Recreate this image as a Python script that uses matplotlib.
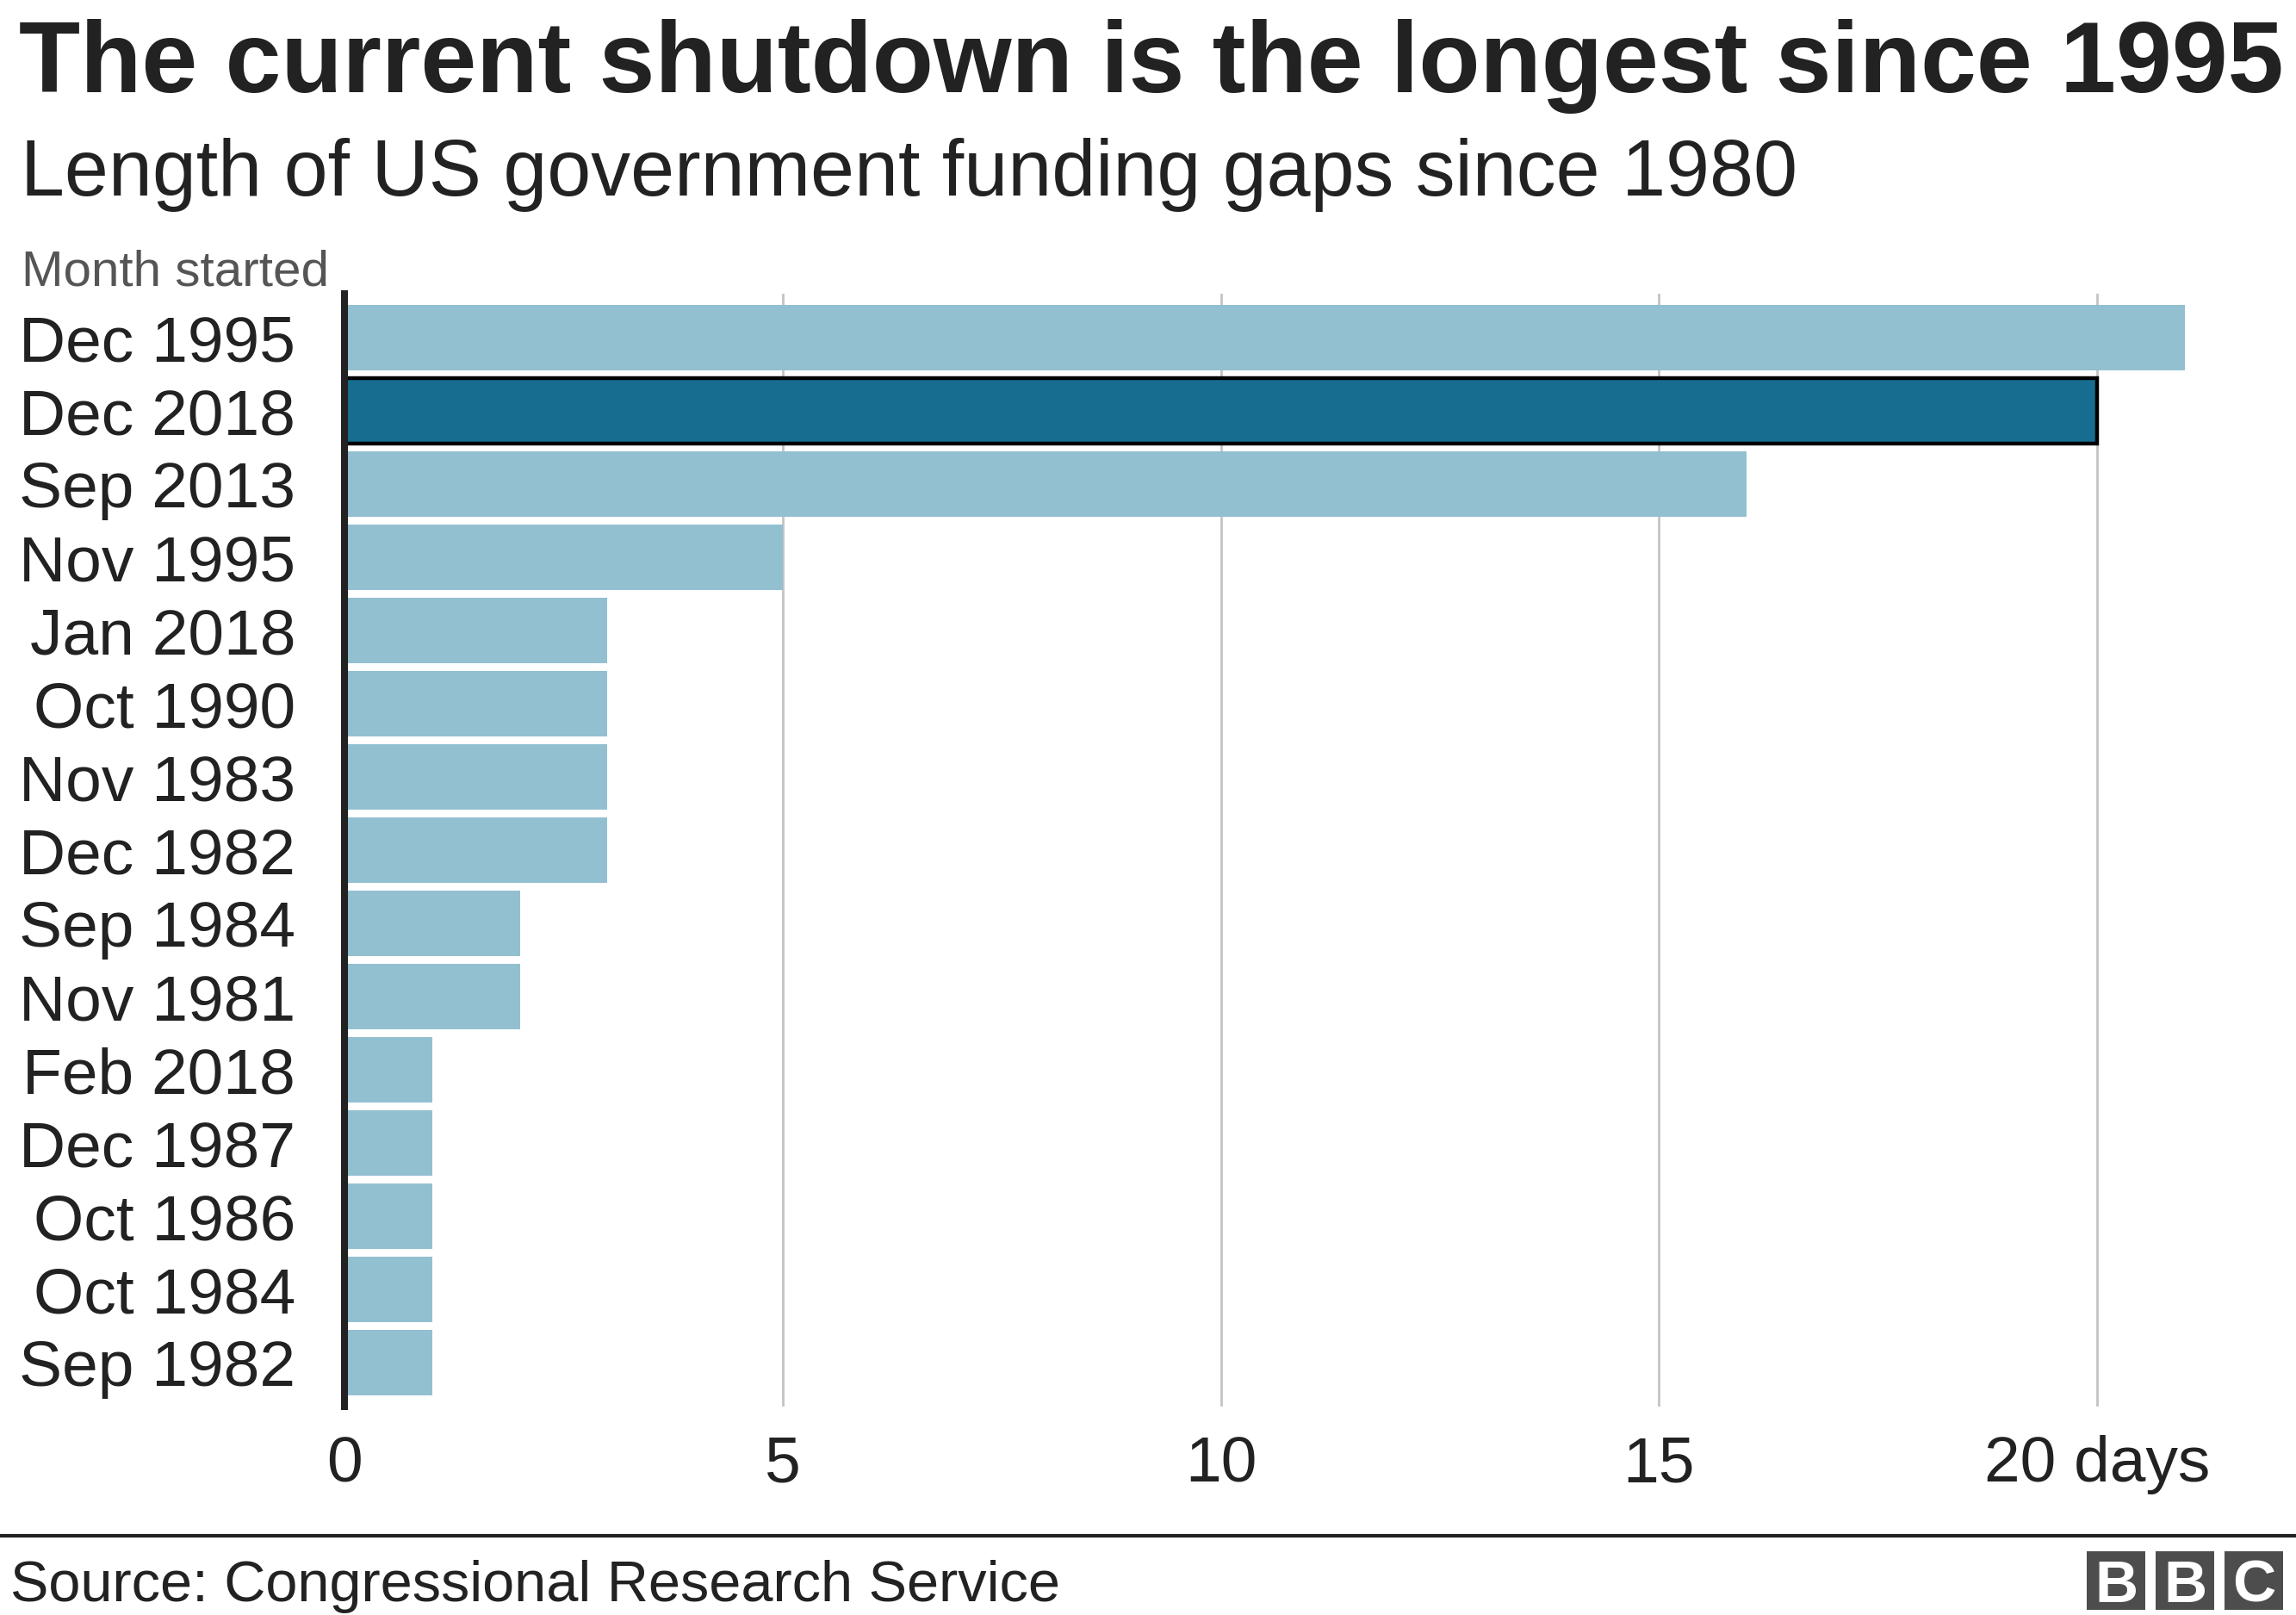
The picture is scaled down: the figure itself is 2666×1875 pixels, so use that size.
import matplotlib
matplotlib.use("Agg")
import matplotlib.pyplot as plt
from matplotlib.patches import Rectangle

categories = ["Dec 1995", "Dec 2018", "Sep 2013", "Nov 1995", "Jan 2018", "Oct 1990",
              "Nov 1983", "Dec 1982", "Sep 1984", "Nov 1981", "Feb 2018", "Dec 1987",
              "Oct 1986", "Oct 1984", "Sep 1982"]
days = [21, 20, 16, 5, 3, 3, 3, 3, 2, 2, 1, 1, 1, 1, 1]
highlight = "Dec 2018"
xticks = [0, 5, 10, 15, 20]
xticklabels = ["0", "5", "10", "15", "20 days"]

W, H = 2666, 1875
DPI = 100
plt.rcParams['font.family'] = ['Liberation Sans', 'DejaVu Sans']

fig = plt.figure(figsize=(W / DPI, H / DPI), dpi=DPI)
fig.patch.set_facecolor("white")

x0_px = 400
px_per_day = 101.75
xmax = 22
ax_left = x0_px / W
ax_width = xmax * px_per_day / W
ax_bottom = (H - 1633) / H
ax_height = (1633 - 341) / H
ax = fig.add_axes([ax_left, ax_bottom, ax_width, ax_height])

light = "#92c0d1"
dark = "#176d8f"
ypos = list(range(len(categories)))
for y, cat, v in zip(ypos, categories, days):
    if cat == highlight:
        ax.barh(y, v, height=0.894, color=dark, edgecolor="black", linewidth=3.2, zorder=3)
    else:
        ax.barh(y, v, height=0.894, color=light, edgecolor="none", zorder=3)

ax.set_xlim(0, xmax)
ax.set_ylim(len(categories) - 1 + 0.6, -0.6)
ax.set_xticks(xticks)
ax.set_xticklabels(xticklabels)
ax.set_yticks(ypos)
ax.set_yticklabels(categories)
ax.tick_params(axis="y", length=0, pad=41, labelsize=54, labelcolor="#222222")
ax.tick_params(axis="x", length=0, pad=24, labelsize=54, labelcolor="#222222")
ax.xaxis.grid(True, color="#c4c4c4", linewidth=2.0, zorder=0)
ax.set_axisbelow(True)
for s in ["top", "right", "bottom"]:
    ax.spines[s].set_visible(False)
ax.spines["left"].set_color("#222222")
ax.spines["left"].set_linewidth(5.8)
ax.spines["left"].set_zorder(5)

# Titles
fig.text(22 / W, 1 - 107 / H, "The current shutdown is the longest since 1995",
         fontsize=84, fontweight="bold", color="#222222", va="baseline", ha="left")
fig.text(24 / W, 1 - 227 / H, "Length of US government funding gaps since 1980",
         fontsize=66, color="#222222", va="baseline", ha="left")
fig.text(25 / W, 1 - 332 / H, "Month started",
         fontsize=42, color="#555555", va="baseline", ha="left")

# Bottom rule and source
fig.add_artist(plt.Line2D([0, 1], [1 - 1783 / H, 1 - 1783 / H], color="#222222",
                          linewidth=3, transform=fig.transFigure))
fig.text(12 / W, 1 - 1859 / H, "Source: Congressional Research Service",
         fontsize=48, color="#222222", va="baseline", ha="left")

# BBC logo
box = 68
for i, letter in enumerate("BBC"):
    bx = 2423 + i * 80
    by = 1801
    fig.add_artist(Rectangle((bx / W, 1 - (by + box) / H), box / W, box / H,
                             transform=fig.transFigure, color="#4d4d4d", linewidth=0))
    fig.text((bx + box / 2) / W, 1 - (by + box / 2) / H, letter,
             fontsize=50, fontweight="bold", color="white", ha="center", va="center_baseline")

fig.savefig("out.png", dpi=DPI, facecolor="white")
